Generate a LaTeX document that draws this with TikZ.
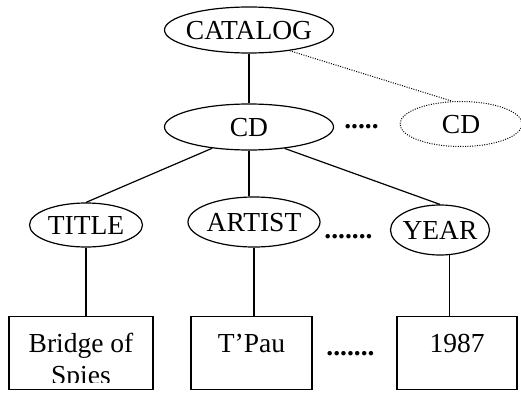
\documentclass[tikz,border=0pt]{standalone}
\usepackage{fontspec}
\setmainfont{Liberation Serif}
\usetikzlibrary{shapes.geometric}
\newcommand{\ctext}[1]{\makebox[0pt]{#1}}
\begin{document}
\begin{tikzpicture}[x=1pt,y=-1pt,
  every node/.style={font=\fontsize{27.5}{30}\selectfont},
  oval/.style={draw,ellipse,line width=1.2pt,inner sep=0pt,text height=18.2pt,text depth=0pt},
  dotoval/.style={oval,line width=1pt,dash pattern=on 1pt off 1.4pt},
  box/.style={draw,rectangle,line width=1.2pt,inner sep=0pt,minimum height=73pt,anchor=north},
  conn/.style={line width=1.2pt},
  dotconn/.style={line width=1pt,dash pattern=on 1pt off 1.4pt},
  dots/.style={anchor=base,inner sep=0pt,font=\fontsize{27.5}{30}\selectfont\bfseries},
  txt/.style={anchor=base,inner sep=0pt}]
\useasboundingbox (0,0) rectangle (521,393);
% ellipses
\node[oval,minimum width=169pt,minimum height=46pt] (cat) at (249,30) {\ctext{CATALOG}};
\node[oval,minimum width=169pt,minimum height=46pt] (cd) at (249,127) {\ctext{CD}};
\node[dotoval,minimum width=122pt,minimum height=45pt] (cd2) at (461,124) {\ctext{CD}};
\node[oval,minimum width=113pt,minimum height=44pt] (title) at (86,225) {\ctext{TITLE}};
\node[oval,minimum width=132pt,minimum height=50pt] (art) at (254,222) {\ctext{ARTIST}};
\node[oval,minimum width=99pt,minimum height=50pt] (yr) at (440,230) {\ctext{YEAR}};
% boxes
\node[box,minimum width=144pt] (b1) at (81,316) {};
\node[box,minimum width=121pt] (b2) at (251.5,316) {};
\node[box,minimum width=120pt] (b3) at (457,316) {};
\node[txt] (b1a) at (81,352) {Bridge of};
\begin{scope}
\clip (0,0) rectangle (521,382.5);
\node[txt] (b1b) at (81,384) {Spies};
\end{scope}
\node[txt] (b2a) at (251.5,352) {T’Pau};
\node[txt] (b3a) at (457,352) {1987};
% dots
\node[dots] (d1) at (361.5,128) {.....};
\node[dots] (d2) at (348.5,238) {.......};
\node[dots] (d3) at (350.5,355) {.......};
% connectors
\draw[conn] (cat.south) -- (cd.north);
\draw[dotconn] (cat.-27) -- (cd2.111);
\draw[conn] (cd.-150) -- (title.north);
\draw[conn] (cd.south) -- (cd.south |- art.north);
\draw[conn] (cd.-31) -- (yr.north);
\draw[conn] (title.south) -- (title.south |- b1.north);
\draw[conn] (art.south) -- (art.south |- b2.north);
\draw[conn] (yr.-69) -- (yr.-69 |- b3.north);
\end{tikzpicture}
\end{document}
